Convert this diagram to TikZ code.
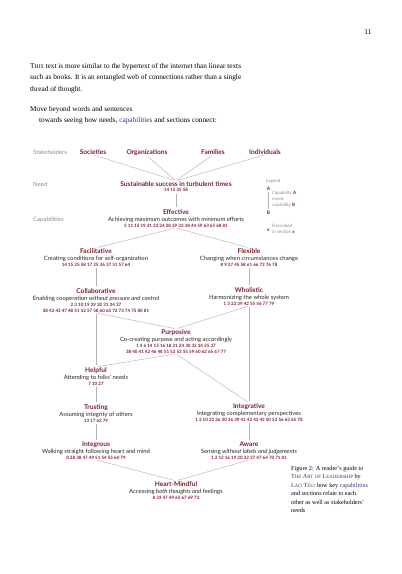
\documentclass[tikz,border=0pt]{standalone}
\usepackage{fontspec}
\setmainfont{Liberation Serif}
\newfontfamily\gillfont{Lato}
\usetikzlibrary{positioning}
\definecolor{capred}{HTML}{7A1F2B}
\definecolor{capblue}{HTML}{33337A}
\definecolor{lablgray}{HTML}{8C8C8C}
\definecolor{linkgray}{HTML}{B4B4B4}
\makeatletter
\newcommand\fakesc[1]{{\fontsize{\fpeval{0.78*\f@size}}{\f@baselineskip}\selectfont #1}}
\makeatother

\begin{document}
\begin{tikzpicture}[x=1pt,y=-1pt,
  captitle/.style={font=\gillfont\bfseries\fontsize{6.6}{7}\selectfont,text=capred,inner sep=0pt,anchor=base},
  capdesc/.style={font=\gillfont\fontsize{5.9}{7}\selectfont,text=black!85,inner sep=0pt},
  capnums/.style={font=\gillfont\bfseries\fontsize{4.5}{6}\selectfont,text=capred,inner sep=0pt,align=center},
  rowlabel/.style={font=\gillfont\fontsize{6}{7}\selectfont,text=lablgray,inner sep=0pt,anchor=base west},
  legtext/.style={font=\gillfont\fontsize{4.5}{6.2}\selectfont,text=lablgray,inner sep=0pt,align=left},
  legkey/.style={font=\gillfont\bfseries\fontsize{4.8}{6}\selectfont,text=capred,inner sep=0pt,anchor=base},
  link/.style={draw=linkgray,line width=0.45pt,shorten <=1.5pt,shorten >=1.5pt}]
\useasboundingbox (0,0) rectangle (402,574);

\node[anchor=base,font=\fontsize{7.5}{9}\selectfont] (pageno) at (368,34.5) {11};
\node[anchor=north west,align=left,inner sep=0pt,font=\fontsize{7.3}{11.3}\selectfont] (intro) at (30,63.2)
  {T\fakesc{HIS} text is more similar to the hypertext of the internet than linear texts\\
   such as books. It is an entangled web of connections rather than a single\\
   thread of thought.};
\node[anchor=north west,align=left,inner sep=0pt,font=\fontsize{7.3}{11.3}\selectfont] (lead) at (30,106.2)
  {Move beyond words and sentences\\
   \hspace*{9pt}towards seeing how needs, \textcolor{capblue}{capabilities} and sections connect:};

\node[rowlabel] (l-stake) at (33,154.5) {Stakeholders};
\node[rowlabel] (l-need) at (33,186) {Need};
\node[rowlabel] (l-cap) at (33,221) {Capabilities};

\node[captitle] (sus) at (176,186) {Sustainable success in turbulent times};
\node[capnums,below=2.4pt of sus.base] (sus-n) {14 15 25 58};

\foreach \n/\x/\y/\t/\d/\m in {
  eff/176/214/Effective/Achieving maximum outcomes with minimum efforts/5 11 15 19 21 23 24 28 29 32 38 44 59 63 65 68 81,
  fac/96/253/Facilitative/Creating conditions for self-organization/14 15 25 58 17 25 36 37 51 57 64,
  flx/249/253/Flexible/Changing when circumstances change/8 9 27 45 58 61 66 73 76 78,
  col/96/293/Collaborative/Enabling cooperation \emph{without pressure and control}/2 3 10 19 29 30 31 34 37\\38 42 43 47 48 51 52 57 58 60 63 72 73 74 75 80 81,
  who/249/292/Wholistic/Harmonizing the whole system/1 3 22 39 42 55 56 77 79,
  pur/176/334/Purposive/Co-creating purpose and acting accordingly/1 4 6 14 15 16 18 21 24 30 32 34 35 37\\38 40 41 42 46 48 51 52 53 55 59 60 62 65 67 77,
  hlp/96/372/Helpful/Attending to folks' needs/7 10 27,
  tru/96/409/Trusting/Assuming integrity of others/13 17 63 79,
  int/249/408/Integrative/Integrating complementary perspectives/1 2 10 22 26 30 36 39 41 42 43 45 50 52 56 63 65 78,
  igs/96/446/Integrous/Walking straight following heart and mind/8 28 38 47 49 51 54 55 60 79,
  awr/249/446/Aware/Sensing \emph{without labels and judgements}/1 2 12 16 19 20 32 37 47 64 70 71 81,
  hrt/176/486/Heart-Mindful/Accessing \emph{both thoughts and} feelings/8 33 47 49 65 67 69 72}
{
  \node[captitle] (\n) at (\x,\y) {\t};
  \node[capdesc,below=7.6pt of \n.base,anchor=base] (\n-d) {\d};
  \node[capnums,below=2.6pt of \n-d.base] (\n-n) {\m};
}

\foreach \n/\x/\t in {soc/93/Societies,org/147/Organizations,fam/213/Families,ind/265/Individuals}
{
  \node[captitle] (\n) at (\x,154.5) {\t};
  \draw[link] (\n.south) -- (sus.north);
}

\foreach \a/\b in {sus-n/eff,eff-n/fac,eff-n/flx,fac-n/col,flx-n/who,col-n/pur,who-n/pur,col-n/hlp,who-n/int,
  pur-n/hlp,pur-n/int,hlp-n/tru,tru-n/igs,int-n/awr,igs-n/hrt,awr-n/hrt}
  \draw[link] (\a.south) -- (\b.north);

\node[legtext,anchor=base west] (leg) at (266,182) {Legend};
\node[legkey] (leg-a) at (268.5,190) {A};
\node[legkey] (leg-b) at (268.5,214) {B};
\draw[link] (leg-a) -- (leg-b);
\node[legtext,anchor=north west] (leg-ab) at (272,191)
  {Capability \textcolor{capred}{\bfseries A}\\needs\\capability \textcolor{capred}{\bfseries B}};
\node[legkey] (leg-x) at (268.5,231) {x};
\node[legtext,anchor=north west] (leg-xt) at (272,223.5)
  {Described\\in section \textcolor{capred}{\bfseries x}};

\node[anchor=north west,align=left,inner sep=0pt,font=\fontsize{6.2}{8.4}\selectfont] (caption) at (291,466)
  {Figure 2: A reader's guide to\\
   \textcolor{capblue}{T\fakesc{HE} A\fakesc{RT} \fakesc{OF} L\fakesc{EADERSHIP}} by\\
   \textcolor{capblue}{L\fakesc{AO} T\fakesc{ZU}}: how key \textcolor{capblue}{capabilities}\\
   and sections relate to each\\
   other as well as stakeholders'\\
   needs};
\end{tikzpicture}
\end{document}
